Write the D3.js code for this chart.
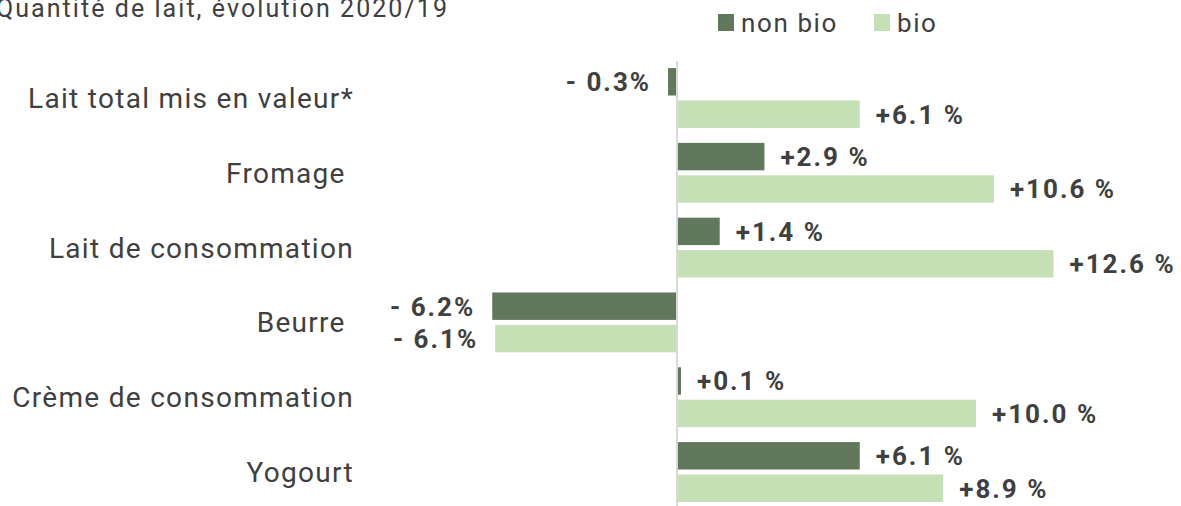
<!DOCTYPE html>
<html>
<head>
<meta charset="utf-8">
<script src="https://cdn.jsdelivr.net/npm/d3@7"></script>
<style>
  html, body { margin: 0; padding: 0; background: #ffffff; }
  svg { display: block; }
  text { font-family: Roboto, "Noto Sans", sans-serif; }
</style>
</head>
<body>
<svg id="chart" width="1181" height="506"></svg>
<script>
const title = "Quantité de lait, évolution 2020/19";
const categories = ["Lait total mis en valeur*", "Fromage ", "Lait de consommation", "Beurre ", "Crème de consommation", "Yogourt"];
const seriesNames = ["non bio", "bio"];
const nonBio = [-0.3, 2.9, 1.4, -6.2, 0.1, 6.1];
const bio = [6.1, 10.6, 12.6, -6.1, 10.0, 8.9];
const colors = ["#61785c", "#c5e0b4"];

const svg = d3.select("#chart");
const textColor = "#404040";

const x = d3.scaleLinear().domain([-8, 14]).range([438.6, 1094.2]);
const y = d3.scaleBand().domain(categories).range([60.6, 509.4]).paddingInner(0.2).paddingOuter(0.1);
const ys = d3.scaleBand().domain(seriesNames).range([0, y.bandwidth()]).paddingInner(0.154);

const fmt = v => v < 0 ? "- " + Math.abs(v).toFixed(1) + "%" : "+" + v.toFixed(1) + " %";

const rows = categories.map((c, i) => ({c, vals: [nonBio[i], bio[i]]}));

// zero axis line
svg.append("line")
  .attr("x1", x(0)).attr("x2", x(0))
  .attr("y1", 61).attr("y2", 506)
  .attr("stroke", "#d9d9d9").attr("stroke-width", 2);

const g = svg.selectAll("g.cat").data(rows).enter().append("g")
  .attr("class", "cat")
  .attr("transform", d => `translate(0,${y(d.c)})`);

g.selectAll("rect").data(d => d.vals.map((v, j) => ({v, s: seriesNames[j], j}))).enter()
  .append("rect")
  .attr("x", d => d.v < 0 ? x(d.v) : x(0) + 1)
  .attr("width", d => Math.max(Math.abs(x(d.v) - x(0)) - (d.v < 0 ? 1 : 0), 1.5))
  .attr("y", d => ys(d.s))
  .attr("height", ys.bandwidth())
  .attr("fill", d => colors[d.j]);

g.selectAll("text.val").data(d => d.vals.map((v, j) => ({v, s: seriesNames[j], j}))).enter()
  .append("text")
  .attr("class", "val")
  .attr("x", d => d.v < 0 ? x(d.v) - 17 : x(d.v) + 17)
  .attr("y", d => ys(d.s) + ys.bandwidth() / 2)
  .attr("dy", "0.36em")
  .attr("text-anchor", d => d.v < 0 ? "end" : "start")
  .attr("font-size", 26)
  .attr("font-weight", "bold")
  .attr("letter-spacing", 2)
  .attr("fill", textColor)
  .text(d => fmt(d.v));

// category labels
svg.selectAll("text.cat").data(categories).enter().append("text")
  .attr("class", "cat")
  .attr("x", 354)
  .attr("y", d => y(d) + y.bandwidth() / 2)
  .attr("dy", "0.36em")
  .attr("text-anchor", "end")
  .attr("font-size", 28)
  .attr("letter-spacing", 1.3)
  .attr("fill", textColor)
  .style("white-space", "pre")
  .text(d => d);

// title (partly cut at the top-left like the reference)
svg.append("text")
  .attr("x", -4).attr("y", 17)
  .attr("font-size", 25)
  .attr("textLength", 451)
  .attr("lengthAdjust", "spacing")
  .attr("fill", textColor)
  .text(title);

// legend
const legX = [718, 874];
const leg = svg.selectAll("g.leg").data(seriesNames).enter().append("g")
  .attr("class", "leg")
  .attr("transform", (d, i) => `translate(${legX[i]},14)`);
leg.append("rect").attr("width", 16).attr("height", 17).attr("fill", (d, i) => colors[i]);
leg.append("text")
  .attr("x", 23).attr("y", 18)
  .attr("font-size", 26)
  .attr("letter-spacing", 1.6)
  .attr("fill", textColor)
  .text(d => d);
</script>
</body>
</html>
